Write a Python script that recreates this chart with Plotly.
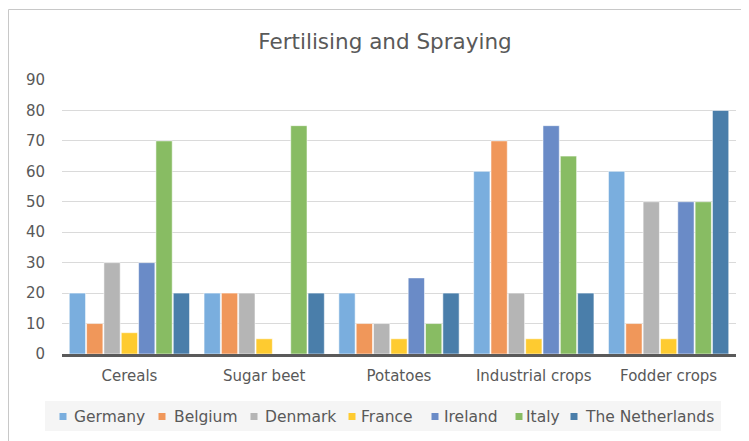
import plotly.graph_objects as go

categories = ["Cereals", "Sugar beet", "Potatoes", "Industrial crops", "Fodder crops"]
germany = [20, 20, 20, 60, 60]
belgium = [10, 20, 10, 70, 10]
denmark = [30, 20, 10, 20, 50]
france = [7, 5, 5, 5, 5]
ireland = [30, 0, 25, 75, 50]
italy = [70, 75, 10, 65, 50]
netherlands = [20, 20, 20, 20, 80]

series_names = ["Germany", "Belgium", "Denmark", "France", "Ireland", "Italy", "The Netherlands"]
series_values = [germany, belgium, denmark, france, ireland, italy, netherlands]
colors = ["#7AAEDE", "#F0975A", "#B5B5B5", "#FECB30", "#6A8BC7", "#88BC63", "#4A7EAA"]

y_ticks = [0, 10, 20, 30, 40, 50, 60, 70, 80, 90]

# page geometry (pixels); the page adds an 8px body margin
OFF = 8
PAGE_W, PAGE_H = 749, 441
W, H = PAGE_W - OFF, PAGE_H - OFF
PLOT_L, PLOT_R, PLOT_T, PLOT_B = 62, 736, 80, 354  # in page pixels
L, T = PLOT_L - OFF, PLOT_T - OFF
R, B = W - (PLOT_R - OFF), H - (PLOT_B - OFF)
PW, PH = PLOT_R - PLOT_L, PLOT_B - PLOT_T


def px_x(p):
    return (p - PLOT_L) / PW


def px_y(p):
    return (PLOT_B - p) / PH


TXT = "#595959"
FONT = "DejaVu Sans"

fig = go.Figure()
for name, vals, col in zip(series_names, series_values, colors):
    fig.add_trace(go.Bar(
        name=name, x=categories, y=vals,
        marker=dict(color=col, line=dict(color="rgba(255,255,255,0.55)", width=1)),
        showlegend=False,
    ))

shapes = []
annotations = []
# outer chart border
shapes.append(dict(type="rect", xref="paper", yref="paper",
                   x0=px_x(8.5), x1=px_x(770), y0=px_y(470), y1=px_y(9.5),
                   line=dict(color="#C8C8C8", width=1), fillcolor="rgba(0,0,0,0)", layer="below"))
# legend background
shapes.append(dict(type="rect", xref="paper", yref="paper",
                   x0=px_x(45), x1=px_x(721), y0=px_y(431), y1=px_y(401),
                   line=dict(width=0), fillcolor="#F5F5F5", layer="below"))

legend_sym_x = [63, 162, 254, 352, 435, 519, 574]
legend_txt_x = [72, 172, 263, 359, 442, 524, 583]
legend_y = 416.5
for name, col, sx, tx in zip(series_names, colors, legend_sym_x, legend_txt_x):
    shapes.append(dict(type="rect", xref="paper", yref="paper",
                       x0=px_x(sx - 3.5), x1=px_x(sx + 3.5),
                       y0=px_y(legend_y + 3.5), y1=px_y(legend_y - 3.5),
                       line=dict(width=0), fillcolor=col))
    annotations.append(dict(text=name, xref="paper", yref="paper",
                            x=px_x(tx), y=px_y(legend_y), xanchor="left", yanchor="middle",
                            showarrow=False, font=dict(family=FONT, size=15.5, color=TXT)))

fig.update_layout(
    width=W, height=H,
    margin=dict(l=L, r=R, t=T, b=B),
    paper_bgcolor="white", plot_bgcolor="white",
    barmode="group", bargap=0.1, bargroupgap=0.06,
    title=dict(text="Fertilising and Spraying", x=px_x(385), xref="paper", xanchor="center",
               y=1 - (41 - OFF) / H, yref="container", yanchor="middle",
               font=dict(family=FONT, size=21.5, color=TXT)),
    font=dict(family=FONT, color=TXT),
    shapes=shapes, annotations=annotations,
    xaxis=dict(showline=True, linecolor="#5A5A5A", linewidth=2.5, showgrid=False,
               tickfont=dict(family=FONT, size=15, color=TXT), ticks="", ticklabelstandoff=6),
    yaxis=dict(range=[0, 90], tickvals=y_ticks, showgrid=True, gridcolor="#DADADA", gridwidth=1,
               zeroline=False, showline=False, ticks="",
               tickfont=dict(family=FONT, size=15, color=TXT), ticklabelstandoff=16),
)

fig.write_html("out.html")
